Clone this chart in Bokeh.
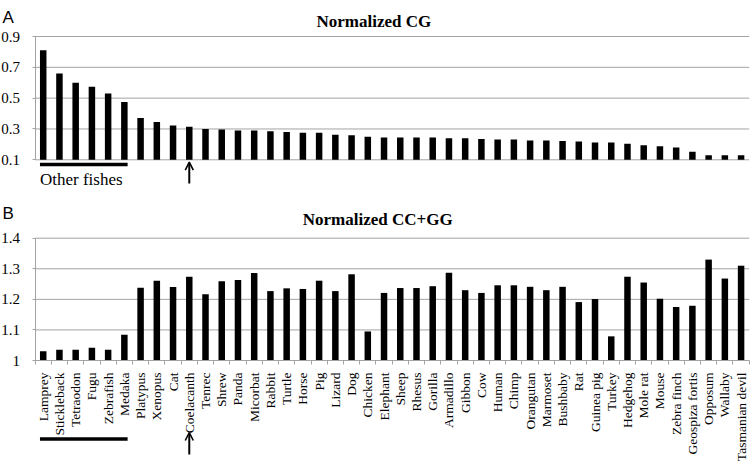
import math
from bokeh.plotting import figure
from bokeh.models import (ColumnDataSource, Range1d, FixedTicker, LinearAxis,
                          CustomJSTickFormatter, Label, Arrow, OpenHead)
from bokeh.layouts import column
from bokeh.embed import file_html
from bokeh.resources import INLINE

# ---------------- data ----------------
species = ["Lamprey", "Stickleback", "Tetraodon", "Fugu", "Zebrafish", "Medaka",
           "Platypus", "Xenopus", "Cat", "Coelacanth", "Tenrec", "Shrew", "Panda",
           "Micorbat", "Rabbit", "Turtle", "Horse", "Pig", "Lizard", "Dog",
           "Chicken", "Elephant", "Sheep", "Rhesus", "Gorilla", "Armadillo",
           "Gibbon", "Cow", "Human", "Chimp", "Orangutan", "Marmoset", "Bushbaby",
           "Rat", "Guinea pig", "Turkey", "Hedgehog", "Mole rat", "Mouse",
           "Zebra finch", "Geospiza fortis", "Opposum", "Wallaby", "Tasmanian devil"]

cg_values = [0.810, 0.660, 0.600, 0.574, 0.530, 0.475, 0.371, 0.345, 0.323, 0.315,
             0.300, 0.296, 0.290, 0.290, 0.285, 0.280, 0.276, 0.276, 0.263, 0.259,
             0.249, 0.244, 0.244, 0.244, 0.244, 0.240, 0.240, 0.235, 0.231, 0.231,
             0.226, 0.226, 0.222, 0.218, 0.213, 0.213, 0.204, 0.195, 0.188, 0.180,
             0.152, 0.130, 0.130, 0.130]

ccgg_values = [1.030, 1.035, 1.035, 1.042, 1.035, 1.084, 1.238, 1.261, 1.240, 1.274,
               1.217, 1.259, 1.263, 1.286, 1.227, 1.236, 1.234, 1.261, 1.227, 1.282,
               1.095, 1.221, 1.237, 1.237, 1.243, 1.287, 1.230, 1.221, 1.246, 1.246,
               1.241, 1.230, 1.241, 1.191, 1.201, 1.079, 1.274, 1.255, 1.202, 1.175,
               1.179, 1.330, 1.268, 1.310]

cg_ticks = [0.1, 0.3, 0.5, 0.7, 0.9]
ccgg_ticks = [1.0, 1.1, 1.2, 1.3, 1.4]
ccgg_tick_labels = ["1", "1.1", "1.2", "1.3", "1.4"]

fish_group = ["Lamprey", "Stickleback", "Tetraodon", "Fugu", "Zebrafish", "Medaka"]
fish_label = "Other fishes"
highlight = "Coelacanth"
title_a = "Normalized CG"
title_b = "Normalized CC+GG"

assert len(species) == len(cg_values) == len(ccgg_values)

# ---------------- layout (page pixels) ----------------
W = 752
H1, H2 = 190, 272
GRID = "#a3a3a3"
SERIF = "Liberation Serif"
SANS = "Liberation Sans"
n = len(species)
BAR_W = 0.4
TXT_SHIFT = 3                              # lift free-standing texts a little

PX_LEFT, PX_RIGHT = 34.6, 748.7          # x extent of the category slots
WS = (PX_RIGHT - PX_LEFT) / n             # pixels per slot
A_TOP, A_BOT = 36.0, 159.3                # y of 0.9 / 0.1 in panel A
B_TOP, B_BOT = 237.7, 360.0               # y of 1.4 / 1.0 in panel B
K1 = (cg_ticks[-1] - cg_ticks[0]) / (A_BOT - A_TOP)
K2 = (ccgg_ticks[-1] - ccgg_ticks[0]) / (B_BOT - B_TOP)


def xs(px):
    return (px - PX_LEFT) / WS


def y1(py):
    return cg_ticks[-1] - (py - A_TOP) * K1


def y2(py):
    return ccgg_ticks[-1] - (py - B_TOP) * K2


centers = [i + 0.5 for i in range(n)]
edges = list(range(n + 1))
source = ColumnDataSource(dict(x=centers, species=species, cg=cg_values, ccgg=ccgg_values))

i0 = species.index(fish_group[0])
i1 = species.index(fish_group[-1])
ih = species.index(highlight)


def make_panel(height, y_lo, y_hi):
    p = figure(width=W, height=height, x_range=Range1d(xs(0), xs(W)),
               y_range=Range1d(y_lo, y_hi), x_axis_location=None, y_axis_location=None,
               output_backend="svg", toolbar_location=None, min_border=0,
               min_border_left=0, min_border_right=0, min_border_top=0,
               min_border_bottom=0)
    p.outline_line_color = None
    p.grid.visible = False
    p.background_fill_color = "white"
    return p


def add_y_axis(p, ticks, labels=None):
    ax = LinearAxis(fixed_location=0, bounds=(ticks[0], ticks[-1]),
                    ticker=FixedTicker(ticks=ticks),
                    axis_line_color=GRID, major_tick_line_color=GRID,
                    major_tick_out=3, major_tick_in=0, minor_tick_line_color=None,
                    major_label_standoff=12, major_label_text_font=SERIF,
                    major_label_text_font_size="15px", major_label_text_color="black")
    if labels:
        ax.formatter = CustomJSTickFormatter(
            args=dict(tvals=ticks, tlabs=labels),
            code="for (let k = 0; k < tvals.length; k++) {"
                 " if (Math.abs(tvals[k] - tick) < 1e-9) return tlabs[k]; }"
                 " return '';")
    p.add_layout(ax, "left")
    # horizontal grid lines over the category slots
    p.segment(x0=[0] * len(ticks), x1=[n] * len(ticks), y0=ticks, y1=ticks,
              line_color=GRID, line_width=1)


def add_marks(p, y_of, text, title_x, title_base, tag_base, bar_y, arr_tail, arr_tip):
    p.add_layout(Label(x=xs(2), y=y_of(tag_base - TXT_SHIFT), text=text[0], text_font=SANS,
                       text_font_size="17px", text_baseline="alphabetic",
                       text_align="left", text_color="black"))
    p.add_layout(Label(x=xs(title_x), y=y_of(title_base - TXT_SHIFT), text=text[1],
                       text_font=SERIF, text_font_size="17px", text_font_style="bold",
                       text_baseline="alphabetic", text_align="center",
                       text_color="black"))
    p.add_layout(Arrow(x_start=centers[i0] - BAR_W / 2, x_end=centers[i1] + BAR_W / 2,
                       y_start=y_of(bar_y), y_end=y_of(bar_y), start=None, end=None,
                       line_width=3.3, line_color="black"))
    p.add_layout(Arrow(x_start=centers[ih], x_end=centers[ih], y_start=y_of(arr_tail),
                       y_end=y_of(arr_tip), line_width=2, line_color="black",
                       end=OpenHead(size=8, line_width=1.6, line_color="black")))


# ---------------- panel A ----------------
p1 = make_panel(H1, y1(H1), y1(0))
add_y_axis(p1, cg_ticks)
p1.vbar(x="x", top="cg", bottom=cg_ticks[0], width=BAR_W, source=source,
        fill_color="black", line_color=None)
add_marks(p1, y1, ("A", title_a), 373.4, 24, 20, 164, 183, 161.7)
p1.add_layout(Label(x=centers[i0] - BAR_W / 2, y=y1(181.5 - TXT_SHIFT), text=fish_label,
                    text_font=SERIF, text_font_size="17px", text_color="black",
                    text_baseline="alphabetic", text_align="left"))

# ---------------- panel B ----------------
p2 = make_panel(H2, y2(H1 + H2), y2(H1))
add_y_axis(p2, ccgg_ticks, ccgg_tick_labels)
p2.vbar(x="x", top="ccgg", bottom=ccgg_ticks[0], width=BAR_W, source=source,
        fill_color="black", line_color=None)

name_axis = LinearAxis(fixed_location=ccgg_ticks[0], bounds=(0, n),
                       ticker=FixedTicker(ticks=centers, minor_ticks=edges),
                       formatter=CustomJSTickFormatter(
                           args=dict(names=species),
                           code="return names[Math.round(tick - 0.5)];"),
                       axis_line_color=GRID, major_tick_line_color=None,
                       major_tick_out=0, major_tick_in=0,
                       minor_tick_line_color=GRID, minor_tick_out=4, minor_tick_in=0,
                       major_label_orientation=math.pi / 2,
                       major_label_standoff=8,
                       major_label_text_font=SERIF,
                       major_label_text_font_size="13.5px",
                       major_label_text_color="black")
p2.add_layout(name_axis, "below")
add_marks(p2, y2, ("B", title_b), 377.2, 221.7, 216, 438.5, 454, 432)

layout = column(p1, p2, spacing=0)
open("out.html", "w").write(file_html(layout, INLINE))
